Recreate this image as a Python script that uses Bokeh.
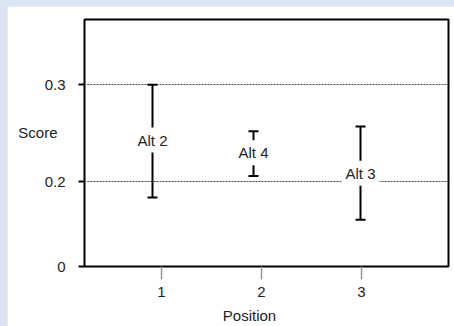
from bokeh.plotting import figure
from bokeh.models import (FixedTicker, CustomJSTickFormatter, Range1d, LinearAxis,
                          ColumnDataSource)
from bokeh.core.properties import value
from bokeh.embed import file_html
from bokeh.resources import INLINE

# data
alternatives = ["Alt 2", "Alt 4", "Alt 3"]
positions = [0.91, 1.92, 2.99]
upper = [0.300, 0.252, 0.257]
lower = [0.184, 0.206, 0.161]
mean = [0.243, 0.230, 0.209]
x_ticks = [1, 2, 3]
y_ticks = [0.113, 0.2, 0.3]
grid_ticks = [0.2, 0.3]
x_title = "Position"
y_title = "Score"

FONT = "Liberation Sans"
TXT = "#222222"

src = ColumnDataSource(dict(x=positions, lo=lower, hi=upper, m=mean, lab=alternatives))

p = figure(width=447, height=320, output_backend="svg", toolbar_location=None,
           x_range=Range1d(0.23, 3.87), y_range=Range1d(0.113, 0.367),
           min_border_left=77, min_border_right=6, min_border_top=13, min_border_bottom=59)
p.background_fill_color = "white"
p.border_fill_color = "white"
p.outline_line_color = "black"
p.outline_line_width = 2

p.xgrid.visible = False
p.ygrid.ticker = FixedTicker(ticks=grid_ticks)
p.ygrid.grid_line_color = "#444444"
p.ygrid.grid_line_dash = "2 1"
p.ygrid.grid_line_width = 1

# axes
p.xaxis.ticker = FixedTicker(ticks=x_ticks)
p.xaxis.axis_line_color = None
p.xaxis.major_tick_out = 13
p.xaxis.major_tick_in = 0
p.xaxis.major_tick_line_color = "#999999"
p.xaxis.major_tick_line_width = 1.5
p.xaxis.minor_tick_line_color = None
p.xaxis.major_label_standoff = 7
p.xaxis.major_label_text_font = FONT
p.xaxis.major_label_text_font_size = "15px"
p.xaxis.major_label_text_color = TXT

p.yaxis.ticker = FixedTicker(ticks=y_ticks)
p.yaxis.formatter = CustomJSTickFormatter(code="return tick < 0.15 ? '0' : tick.toFixed(1)")
p.yaxis.axis_line_color = None
p.yaxis.major_tick_out = 6
p.yaxis.major_tick_in = 0
p.yaxis.major_tick_line_color = "black"
p.yaxis.major_tick_line_width = 2
p.yaxis.minor_tick_line_color = None
p.yaxis.major_label_standoff = 13
p.yaxis.major_label_text_font = FONT
p.yaxis.major_label_text_font_size = "15px"
p.yaxis.major_label_text_color = TXT

# axis titles as extra axes (one labelled tick each)
ytitle_axis = LinearAxis(ticker=FixedTicker(ticks=[0.2503]),
                         formatter=CustomJSTickFormatter(code="return %r" % y_title),
                         axis_line_color=None, major_tick_line_color=None,
                         minor_tick_line_color=None, major_tick_out=0, major_tick_in=0,
                         major_label_standoff=-16, major_label_text_font=FONT,
                         major_label_text_font_size="15px", major_label_text_color=TXT)
p.add_layout(ytitle_axis, "left")
xtitle_axis = LinearAxis(ticker=FixedTicker(ticks=[1.88]),
                         formatter=CustomJSTickFormatter(code="return %r" % x_title),
                         axis_line_color=None, major_tick_line_color=None,
                         minor_tick_line_color=None, major_tick_out=0, major_tick_in=0,
                         major_label_standoff=7, major_label_text_font=FONT,
                         major_label_text_font_size="15px", major_label_text_color=TXT)
p.add_layout(xtitle_axis, "below")

# error bars
p.segment(x0="x", y0="lo", x1="x", y1="hi", source=src, line_color="black", line_width=2)
p.scatter(x="x", y="hi", source=src, marker="dash", size=10, line_color="black", line_width=2)
p.scatter(x="x", y="lo", source=src, marker="dash", size=10, line_color="black", line_width=2)
p.text(x="x", y="m", text="lab", source=src, text_align="center", text_baseline="middle",
       text_font=value(FONT), text_font_size="15px", text_color=TXT,
       background_fill_color="white", padding=4)

html = file_html(p, INLINE)
html = html.replace("</head>",
                    "<style>html, body { background: #dbe4f4 !important; } "
                    "body { padding: 6px 0 0 7px !important; }</style></head>", 1)
open("out.html", "w").write(html)
